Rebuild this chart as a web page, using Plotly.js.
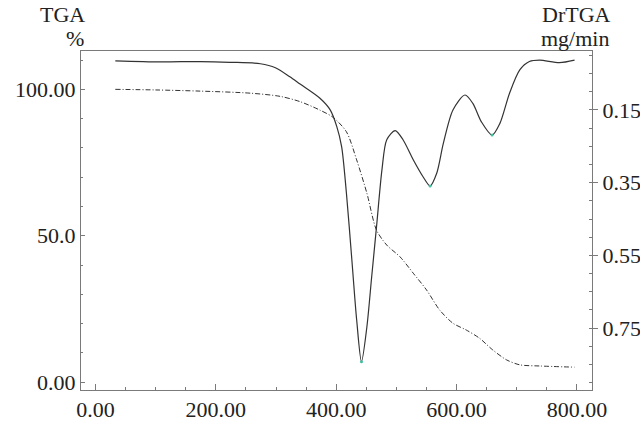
<!DOCTYPE html>
<html>
<head>
<meta charset="utf-8">
<script src="https://cdn.plot.ly/plotly-3.0.1.min.js"></script>
<style>html,body{margin:0;padding:0;background:#fff;}#chart{width:640px;height:422px;}</style>
</head>
<body>
<div id="chart"></div>
<script>
// TGA curve (left axis, %)
var tgaTemp = [33, 100, 174, 257, 307, 340, 373, 395, 417, 434, 451, 467, 484, 506, 528, 550, 572, 594, 616, 638, 660, 683, 705, 738, 796];
var tgaPct  = [100.0, 99.8, 99.4, 98.7, 97.6, 95.8, 92.9, 90.4, 85.5, 75.9, 64.5, 51.9, 46.8, 42.8, 37.2, 31.5, 24.6, 20.1, 17.8, 15.0, 11.0, 7.6, 5.9, 5.5, 5.1];

// DrTGA curve (right axis, mg/min)
var drTemp = [33, 108, 174, 224, 274, 299, 323, 340, 373, 390, 401, 409, 417, 426, 434, 442, 451, 459, 467, 476, 484, 498, 511, 528, 544, 556, 567, 578, 594, 614, 627, 641, 659, 672, 688, 705, 721, 738, 771, 796];
var drRate = [0.015, 0.018, 0.017, 0.019, 0.023, 0.034, 0.059, 0.079, 0.118, 0.150, 0.196, 0.251, 0.379, 0.562, 0.727, 0.842, 0.746, 0.608, 0.471, 0.315, 0.232, 0.207, 0.232, 0.287, 0.333, 0.359, 0.324, 0.242, 0.150, 0.109, 0.132, 0.182, 0.219, 0.187, 0.104, 0.040, 0.017, 0.013, 0.020, 0.013];

// marked peak points on DrTGA
var peakTemp = [442, 556, 659];
var peakRate = [0.842, 0.359, 0.219];

// tick labels
var xTickVals = [0, 200, 400, 600, 800];
var xTickText = ["0.00", "200.00", "400.00", "600.00", "800.00"];
var yTickVals = [0, 50, 100];
var yTickText = ["0.00", "50.0", "100.00"];
var y2TickVals = [0.15, 0.35, 0.55, 0.75];
var y2TickText = ["0.15", "0.35", "0.55", "0.75"];

var FONT = "Liberation Serif, Times New Roman, serif";
var lineCol = "#333333";
var axCol = "#7a7a7a";

var traces = [
  {x: tgaTemp, y: tgaPct, type: "scatter", mode: "lines", yaxis: "y",
   line: {color: lineCol, width: 1, dash: "5px,2px,1px,2px", shape: "spline", smoothing: 0.8},
   hoverinfo: "skip", showlegend: false},
  {x: drTemp, y: drRate, type: "scatter", mode: "lines", yaxis: "y2",
   line: {color: lineCol, width: 1.2, shape: "spline", smoothing: 0.8},
   hoverinfo: "skip", showlegend: false},
  {x: peakTemp, y: peakRate, type: "scatter", mode: "markers", yaxis: "y2",
   marker: {color: "#3fbf9f", size: 3}, hoverinfo: "skip", showlegend: false}
];

var tickFont = {family: FONT, size: 22, color: "#222"};

var layout = {
  width: 640, height: 422,
  margin: {l: 81, r: 48, t: 51, b: 32, pad: 0},
  paper_bgcolor: "#fff", plot_bgcolor: "#fff",
  showlegend: false,
  xaxis: {
    range: [-24, 825], showgrid: false, zeroline: false,
    showline: true, linecolor: axCol, linewidth: 1, mirror: true,
    tickvals: xTickVals, ticktext: xTickText, ticks: "inside", ticklen: 6, tickcolor: axCol,
    minor: {dtick: 50, tick0: 0, ticks: "inside", ticklen: 3, tickcolor: axCol},
    tickfont: tickFont
  },
  yaxis: {
    range: [-2.7, 113.1], showgrid: false, zeroline: false,
    showline: true, linecolor: axCol, linewidth: 1,
    tickvals: yTickVals, ticktext: yTickText, ticks: "inside", ticklen: 4, tickcolor: axCol,
    minor: {dtick: 10, tick0: 0, ticks: "inside", ticklen: 2, tickcolor: axCol},
    tickfont: tickFont
  },
  yaxis2: {
    overlaying: "y", side: "right",
    range: [0.92, -0.012], showgrid: false, zeroline: false,
    showline: true, linecolor: axCol, linewidth: 1,
    tickvals: y2TickVals, ticktext: y2TickText, ticks: "outside", ticklen: 5, tickcolor: axCol,
    minor: {dtick: 0.05, tick0: 0.15, ticks: "inside", ticklen: 3, tickcolor: axCol},
    tickfont: tickFont
  },
  annotations: [
    {text: "TGA", xref: "paper", yref: "paper", x: -0.036, y: 1.109, showarrow: false,
     font: {family: FONT, size: 22, color: "#222"}, xanchor: "center", yanchor: "middle"},
    {text: "%", xref: "paper", yref: "paper", x: -0.011, y: 1.038, showarrow: false,
     font: {family: FONT, size: 22, color: "#222"}, xanchor: "center", yanchor: "middle"},
    {text: "DrTGA", xref: "paper", yref: "paper", x: 0.970, y: 1.109, showarrow: false,
     font: {family: FONT, size: 22, color: "#222"}, xanchor: "center", yanchor: "middle"},
    {text: "mg/min", xref: "paper", yref: "paper", x: 0.966, y: 1.038, showarrow: false,
     font: {family: FONT, size: 22, color: "#222"}, xanchor: "center", yanchor: "middle"}
  ]
};

Plotly.newPlot("chart", traces, layout, {staticPlot: true, displayModeBar: false});
</script>
</body>
</html>
